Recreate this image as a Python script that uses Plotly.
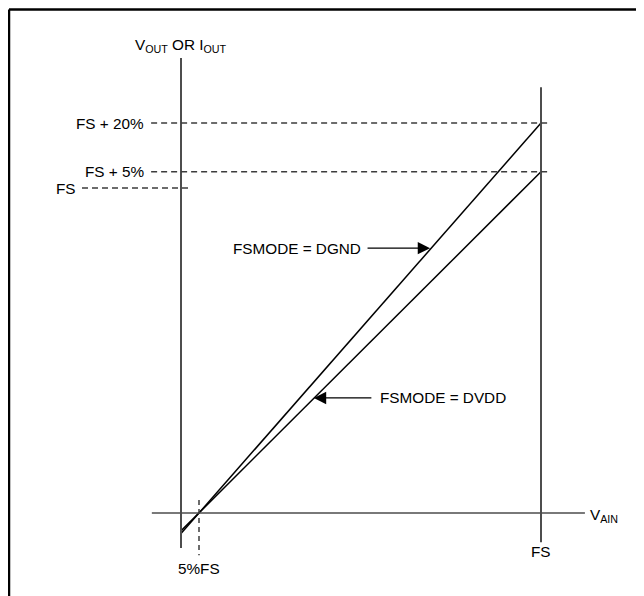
import plotly.graph_objects as go

# input in units of full scale (FS)
vain = [0.0, 1.0]
out_dgnd = [-0.063, 1.20]   # FSMODE = DGND, FS + 20%
out_dvdd = [-0.055, 1.05]   # FSMODE = DVDD, FS + 5%

level_vals = [1.20, 1.05, 1.00]
level_labels = ["FS + 20%", "FS + 5%", "FS"]
offset_x = 0.05
offset_label = "5%FS"

FONT = "Liberation Sans, Arial, sans-serif"
FS_TXT = 15.3
AXIS_C = "#4d4d4d"
DASH_C = "#3c3c3c"

fig = go.Figure()

fig.add_trace(go.Scatter(x=vain, y=out_dgnd, mode="lines",
                         line=dict(color="black", width=1.5), showlegend=False))
fig.add_trace(go.Scatter(x=vain, y=out_dvdd, mode="lines",
                         line=dict(color="black", width=1.5), showlegend=False))

# axes of the diagram
fig.add_shape(type="line", x0=0, x1=0, y0=-0.108, y1=1.40,
              line=dict(color=AXIS_C, width=2))
fig.add_shape(type="line", x0=1, x1=1, y0=-0.09, y1=1.31,
              line=dict(color=AXIS_C, width=2))
fig.add_shape(type="line", x0=-0.081, x1=1.122, y0=0, y1=0,
              line=dict(color=AXIS_C, width=1.5))

# dashed level lines
for val, lab in zip(level_vals, level_labels):
    if lab == "FS":
        x0, x1, xl = -0.275, 0.022, -0.287
    else:
        x0, x1, xl = -0.083, 1.028, -0.097
    fig.add_shape(type="line", x0=x0, x1=x1, y0=val, y1=val,
                  line=dict(color=DASH_C, width=1.5, dash="6px,4px"))
    fig.add_annotation(x=xl, y=val, text=lab, showarrow=False,
                       xanchor="right", yanchor="middle",
                       font=dict(size=FS_TXT, color="black", family=FONT))

# 5% FS marker
fig.add_shape(type="line", x0=offset_x, x1=offset_x, y0=0.04, y1=-0.13,
              line=dict(color=DASH_C, width=1.5, dash="5px,4px"))
fig.add_annotation(x=offset_x, y=-0.17, text=offset_label, showarrow=False,
                   xanchor="center", yanchor="middle",
                   font=dict(size=FS_TXT, color="black", family=FONT))
fig.add_annotation(x=1, y=-0.117, text="FS", showarrow=False,
                   xanchor="center", yanchor="middle",
                   font=dict(size=FS_TXT, color="black", family=FONT))

# axis titles
fig.add_annotation(x=0, y=1.437, text="V<sub>OUT</sub> OR I<sub>OUT</sub>",
                   showarrow=False, xanchor="center", yanchor="middle",
                   font=dict(size=FS_TXT, color="black", family=FONT))
fig.add_annotation(x=1.130, y=-0.008, text="V<sub>AIN</sub>",
                   showarrow=False, xanchor="left", yanchor="middle",
                   font=dict(size=FS_TXT, color="black", family=FONT))

# curve labels with arrows
fig.add_annotation(x=0.321, y=0.815, text="FSMODE = DGND", showarrow=False,
                   xanchor="center", yanchor="middle",
                   font=dict(size=FS_TXT, color="black", family=FONT))
fig.add_annotation(x=0.692, y=0.815, ax=0.514, ay=0.815, axref="x", ayref="y",
                   text="", showarrow=True, arrowhead=2, arrowsize=1.9,
                   arrowwidth=1.3, arrowcolor="black")
fig.add_annotation(x=0.728, y=0.354, text="FSMODE = DVDD", showarrow=False,
                   xanchor="center", yanchor="middle",
                   font=dict(size=FS_TXT, color="black", family=FONT))
fig.add_annotation(x=0.369, y=0.354, ax=0.533, ay=0.354, axref="x", ayref="y",
                   text="", showarrow=True, arrowhead=2, arrowsize=1.9,
                   arrowwidth=1.3, arrowcolor="black")

# outer frame (left and top edges visible)
fig.add_shape(type="line", xref="paper", yref="paper",
              x0=1 / 644, x1=1, y0=1 - 1.5 / 596, y1=1 - 1.5 / 596,
              line=dict(color="black", width=2.5))
fig.add_shape(type="line", xref="paper", yref="paper",
              x0=1 / 644, x1=1 / 644, y0=0, y1=1 - 1.5 / 596,
              line=dict(color="black", width=2.5))

fig.update_layout(
    width=644, height=596,
    margin=dict(l=0, r=0, t=0, b=0),
    paper_bgcolor="white", plot_bgcolor="white",
    xaxis=dict(range=[-0.48056, 1.30833], visible=False, fixedrange=True),
    yaxis=dict(range=[-0.28, 1.55385], visible=False, fixedrange=True),
    font=dict(family=FONT),
)

fig.write_html("out.html")
